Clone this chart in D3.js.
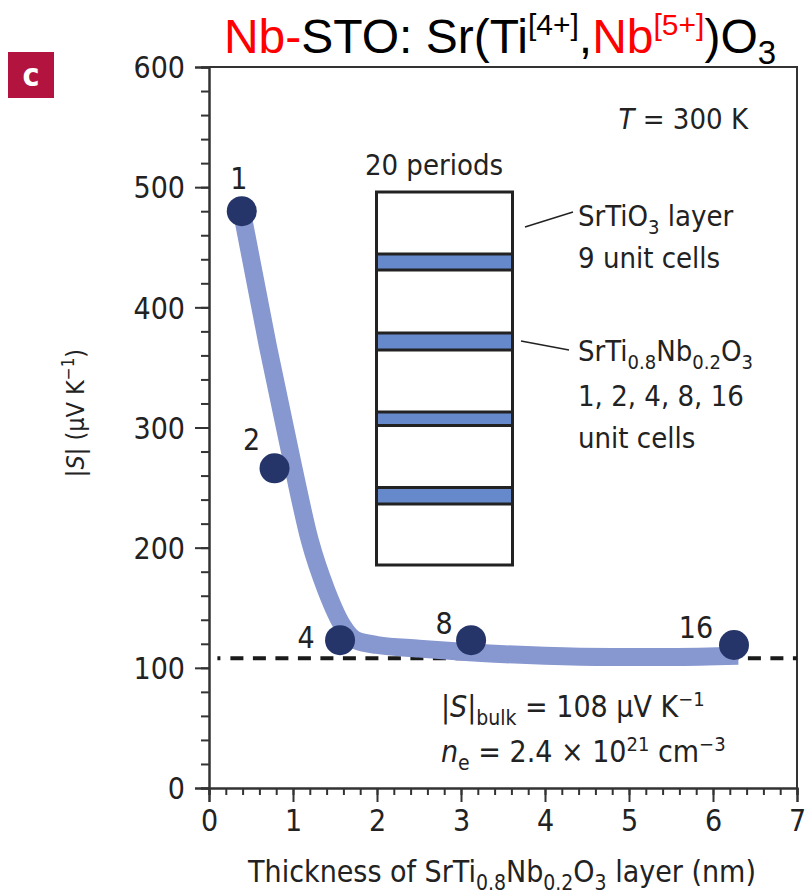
<!DOCTYPE html>
<html>
<head>
<meta charset="utf-8">
<script src="https://cdn.jsdelivr.net/npm/d3@7"></script>
<style>
  body { margin: 0; background: #fff; }
  svg text { font-family: "Liberation Sans Narrow", "DejaVu Sans Condensed", sans-serif; fill: #222; }
</style>
</head>
<body>
<svg id="chart"></svg>
<script>
// measured points: SrTi0.8Nb0.2O3 layer thickness (nm) vs |S| (uV/K)
const thickness = [0.39, 0.78, 1.56, 3.12, 6.25]
const seebeck = [480, 266, 123, 123, 119]
const cellLabels = ['1', '2', '4', '8', '16']

// thick guide curve
const fitX = [0.39, 0.7, 1.0, 1.2, 1.4, 1.6, 1.75, 2.0, 2.5, 3.1, 4.0, 4.8, 5.5, 6.3]
const fitS = [480, 368, 268, 206, 164, 134, 123, 119, 116, 113, 110, 109, 109, 110]

const bulkS = 108
const xTicks = [0, 1, 2, 3, 4, 5, 6, 7]
const yTicks = [0, 100, 200, 300, 400, 500, 600]

const width = 809,
    height = 894
const plot = { left: 209, right: 797, top: 67, bottom: 788 }

const svg = d3.select('#chart').attr('width', width).attr('height', height)

const x = d3.scaleLinear().domain([0, 7]).range([plot.left, plot.right])
const y = d3.scaleLinear().domain([0, 600]).range([plot.bottom, plot.top])

// frame (top and right edges plain)
svg.append('path')
    .attr('d', `M${plot.left},${plot.top}H${plot.right}V${plot.bottom}`)
    .attr('fill', 'none').attr('stroke', '#333').attr('stroke-width', 2)

// y axis
const yAxis = svg.append('g').attr('transform', `translate(${plot.left},0)`)
yAxis.append('g')
    .call(d3.axisLeft(y).tickValues(d3.range(0, 601, 20)).tickSize(8).tickFormat(''))
yAxis.append('g')
    .call(d3.axisLeft(y).tickValues(yTicks).tickSize(14).tickPadding(10))
yAxis.selectAll('path').attr('stroke', '#333').attr('stroke-width', 2)
yAxis.selectAll('line').attr('stroke', '#333').attr('stroke-width', 2)
yAxis.selectAll('text').style('font-size', '30px').attr('fill', '#222').attr('dy', '0.36em')

// x axis
const xAxis = svg.append('g').attr('transform', `translate(0,${plot.bottom})`)
xAxis.append('g')
    .call(d3.axisBottom(x).tickValues(d3.range(0, 7.01, 0.2)).tickSize(7).tickFormat(''))
xAxis.append('g')
    .call(d3.axisBottom(x).tickValues(xTicks).tickSize(14).tickPadding(8).tickFormat(d3.format('d')))
xAxis.selectAll('path').attr('stroke', '#333').attr('stroke-width', 2)
xAxis.selectAll('line').attr('stroke', '#333').attr('stroke-width', 2)
xAxis.selectAll('text').style('font-size', '30px').attr('fill', '#222')

// axis titles
const xTitle = svg.append('text')
    .attr('x', 502).attr('y', 882).attr('text-anchor', 'middle')
    .style('font-size', '30px')
xTitle.append('tspan').text('Thickness of SrTi')
xTitle.append('tspan').text('0.8').attr('dy', 8).style('font-size', '21px')
xTitle.append('tspan').text('Nb').attr('dy', -8)
xTitle.append('tspan').text('0.2').attr('dy', 8).style('font-size', '21px')
xTitle.append('tspan').text('O').attr('dy', -8)
xTitle.append('tspan').text('3').attr('dy', 8).style('font-size', '21px')
xTitle.append('tspan').text(' layer (nm)').attr('dy', -8)

const yTitle = svg.append('text')
    .attr('transform', 'translate(84,413) rotate(-90)')
    .attr('text-anchor', 'middle')
    .style('font-size', '25px')
yTitle.append('tspan').text('|')
yTitle.append('tspan').text('S').style('font-style', 'italic')
yTitle.append('tspan').text('| (μV K')
yTitle.append('tspan').text('−1').attr('dy', -10).style('font-size', '17px')
yTitle.append('tspan').text(')').attr('dy', 10)

// bulk value dashed line
const dashes = d3.range(30).map(() => '13,9.5').join(',')
svg.append('line')
    .attr('x1', x(0.1)).attr('x2', plot.right)
    .attr('y1', y(bulkS)).attr('y2', y(bulkS))
    .attr('stroke', '#1a1a1a').attr('stroke-width', 4)
    .attr('stroke-dasharray', '3,10,' + dashes)

// guide curve
const fit = fitX.map((d, i) => [d, fitS[i]])
svg.append('path')
    .datum(fit)
    .attr('d', d3.line().x(d => x(d[0])).y(d => y(d[1])).curve(d3.curveMonotoneX))
    .attr('fill', 'none')
    .attr('stroke', '#8797cf')
    .attr('stroke-width', 18)

// data points
const pts = thickness.map((d, i) => ({ t: d, s: seebeck[i], label: cellLabels[i] }))
svg.append('g').selectAll('circle')
    .data(pts)
    .enter().append('circle')
    .attr('cx', d => x(d.t))
    .attr('cy', d => y(d.s))
    .attr('r', 15)
    .attr('fill', '#25356a')

const labelOffset = { '1': [-3, -22], '2': [-23, -18], '4': [-34, 8], '8': [-27, -6], '16': [-38, -7] }
svg.append('g').selectAll('text')
    .data(pts)
    .enter().append('text')
    .attr('x', d => x(d.t) + labelOffset[d.label][0])
    .attr('y', d => y(d.s) + labelOffset[d.label][1])
    .attr('text-anchor', 'middle')
    .style('font-size', '30px')
    .text(d => d.label)

// T = 300 K
const tText = svg.append('text').attr('x', 748).attr('y', 129).attr('text-anchor', 'end').style('font-size', '29px')
tText.append('tspan').text('T').style('font-style', 'italic')
tText.append('tspan').text(' = 300 K')

// bulk annotation
const bulkText = svg.append('text').attr('x', 441).attr('y', 717).style('font-size', '30px')
bulkText.append('tspan').text('|')
bulkText.append('tspan').text('S').style('font-style', 'italic')
bulkText.append('tspan').text('|')
bulkText.append('tspan').text('bulk').attr('dy', 8).style('font-size', '21px')
bulkText.append('tspan').text(' = 108 μV K').attr('dy', -8)
bulkText.append('tspan').text('−1').attr('dy', -11).style('font-size', '20px')

const neText = svg.append('text').attr('x', 441).attr('y', 762).style('font-size', '30px')
neText.append('tspan').text('n').style('font-style', 'italic')
neText.append('tspan').text('e').attr('dy', 8).style('font-size', '21px')
neText.append('tspan').text(' = 2.4 × 10').attr('dy', -8)
neText.append('tspan').text('21').attr('dy', -11).style('font-size', '20px')
neText.append('tspan').text(' cm').attr('dy', 11)
neText.append('tspan').text('−3').attr('dy', -11).style('font-size', '20px')

// superlattice sketch
const sketch = svg.append('g')
sketch.append('text').attr('x', 434).attr('y', 175).attr('text-anchor', 'middle')
    .style('font-size', '29px').text('20 periods')
sketch.append('rect')
    .attr('x', 376.5).attr('y', 192).attr('width', 136).attr('height', 373)
    .attr('fill', '#fff').attr('stroke', '#222').attr('stroke-width', 3)
const bands = [[254, 270], [333, 350], [412, 425.5], [487.5, 504]]
sketch.selectAll('rect.band')
    .data(bands)
    .enter().append('rect')
    .attr('class', 'band')
    .attr('x', 376.5).attr('width', 136)
    .attr('y', d => d[0]).attr('height', d => d[1] - d[0])
    .attr('fill', '#6689cc').attr('stroke', '#222').attr('stroke-width', 3)

sketch.append('line').attr('x1', 525).attr('y1', 227).attr('x2', 573).attr('y2', 212)
    .attr('stroke', '#222').attr('stroke-width', 1.5)
sketch.append('line').attr('x1', 521).attr('y1', 341).attr('x2', 569).attr('y2', 350)
    .attr('stroke', '#222').attr('stroke-width', 1.5)

const l1 = sketch.append('text').attr('x', 578).attr('y', 226).style('font-size', '29px')
l1.append('tspan').text('SrTiO')
l1.append('tspan').text('3').attr('dy', 8).style('font-size', '20px')
l1.append('tspan').text(' layer').attr('dy', -8)
sketch.append('text').attr('x', 578).attr('y', 268).style('font-size', '29px').text('9 unit cells')

const l2 = sketch.append('text').attr('x', 578).attr('y', 361).style('font-size', '29px')
l2.append('tspan').text('SrTi')
l2.append('tspan').text('0.8').attr('dy', 8).style('font-size', '20px')
l2.append('tspan').text('Nb').attr('dy', -8)
l2.append('tspan').text('0.2').attr('dy', 8).style('font-size', '20px')
l2.append('tspan').text('O').attr('dy', -8)
l2.append('tspan').text('3').attr('dy', 8).style('font-size', '20px')
sketch.append('text').attr('x', 578).attr('y', 406).style('font-size', '29px').text('1, 2, 4, 8, 16')
sketch.append('text').attr('x', 578).attr('y', 448).style('font-size', '29px').text('unit cells')

// panel letter
svg.append('rect').attr('x', 8).attr('y', 52).attr('width', 46).attr('height', 46).attr('fill', '#b3143f')
svg.append('text').attr('x', 31).attr('y', 86).attr('text-anchor', 'middle')
    .style('font-size', '32px').style('font-weight', 'bold').style('fill', '#fff').text('c')

// title
const title = svg.append('text').attr('x', 500).attr('y', 53).attr('text-anchor', 'middle')
    .style('font-family', '"Liberation Sans", Arial, sans-serif').style('font-size', '48px')
title.append('tspan').text('Nb-').style('fill', '#f00')
title.append('tspan').text('STO: Sr(Ti').style('fill', '#000')
title.append('tspan').text('[4+]').attr('dy', -18).style('font-size', '30px').style('fill', '#000')
title.append('tspan').text(',').attr('dy', 18).style('fill', '#000')
title.append('tspan').text('Nb').style('fill', '#f00')
title.append('tspan').text('[5+]').attr('dy', -18).style('font-size', '30px').style('fill', '#f00')
title.append('tspan').text(')O').attr('dy', 18).style('fill', '#000')
title.append('tspan').text('3').attr('dy', 11).style('font-size', '33px').style('fill', '#000')
</script>
</body>
</html>
